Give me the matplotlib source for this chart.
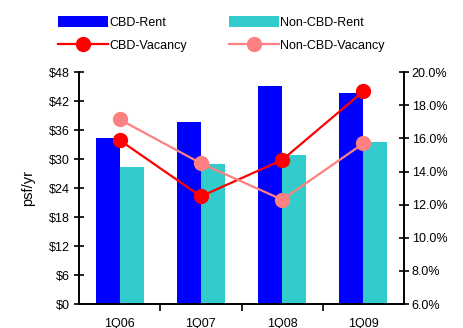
import matplotlib

matplotlib.use("Agg")
import matplotlib.pyplot as plt
import numpy as np
from matplotlib.ticker import FixedLocator, FuncFormatter

plt.rcParams["font.family"] = ["Liberation Sans", "DejaVu Sans"]

# --- data -----------------------------------------------------------
quarters = ["1Q06", "1Q07", "1Q08", "1Q09"]
cbd_rent = [34.3, 37.7, 45.1, 43.7]
non_cbd_rent = [28.3, 29.0, 30.8, 33.5]
cbd_vacancy = [15.9, 12.5, 14.7, 18.85]
non_cbd_vacancy = [17.15, 14.5, 12.3, 15.7]

BLUE = "#0000FF"
TEAL = "#33CCCC"
RED = "#FF0000"
PINK = "#FF8080"

fig = plt.figure(figsize=(4.64, 3.28), dpi=100)
ax = fig.add_axes([0.170, 0.073, 0.701, 0.707])
ax2 = ax.twinx()

x = np.arange(len(quarters))
w = 0.295
b1 = ax.bar(x - w / 2, cbd_rent, w, color=BLUE, label="CBD-Rent")
b2 = ax.bar(x + w / 2, non_cbd_rent, w, color=TEAL, label="Non-CBD-Rent")

l1, = ax2.plot(x, cbd_vacancy, color=RED, lw=1.6, marker="o", ms=10,
               label="CBD-Vacancy")
l2, = ax2.plot(x, non_cbd_vacancy, color=PINK, lw=1.6, marker="o", ms=10,
               label="Non-CBD-Vacancy")

# --- axes -----------------------------------------------------------
ax.set_xlim(-0.5, len(quarters) - 0.5)
ax.set_ylim(0, 48)
ax.set_yticks(np.arange(0, 49, 6))
ax.yaxis.set_major_formatter(FuncFormatter(lambda v, _: f"${v:.0f}"))
ax.set_ylabel("psf/yr", fontsize=10.5, labelpad=10)

ax2.set_ylim(6, 20)
ax2.set_yticks(np.arange(6, 20.1, 2))
ax2.yaxis.set_major_formatter(FuncFormatter(lambda v, _: f"{v:.1f}%"))

ax.set_xticks(x)
ax.set_xticklabels(quarters)
ax.xaxis.set_minor_locator(FixedLocator(x[:-1] + 0.5))
ax.tick_params(axis="x", which="major", length=0, labelsize=9, pad=10)
ax.tick_params(axis="x", which="minor", direction="out", length=5, width=1.2)
ax.tick_params(axis="y", direction="inout", length=7, width=1.2,
               labelsize=9, pad=3)
ax2.tick_params(axis="y", direction="inout", length=7, width=1.2,
                labelsize=9, pad=2)

for a in (ax, ax2):
    a.spines["top"].set_visible(False)
    for s in ("left", "right", "bottom"):
        a.spines[s].set_linewidth(1.2)

fig.legend(handles=[b1, l1, b2, l2], ncol=2, loc="upper left",
           bbox_to_anchor=(0.10, 0.985), frameon=False, fontsize=9,
           handlelength=4.0, handleheight=0.9, handletextpad=0.1,
           columnspacing=3.4, labelspacing=0.85)

fig.savefig("out.png", dpi=100)
